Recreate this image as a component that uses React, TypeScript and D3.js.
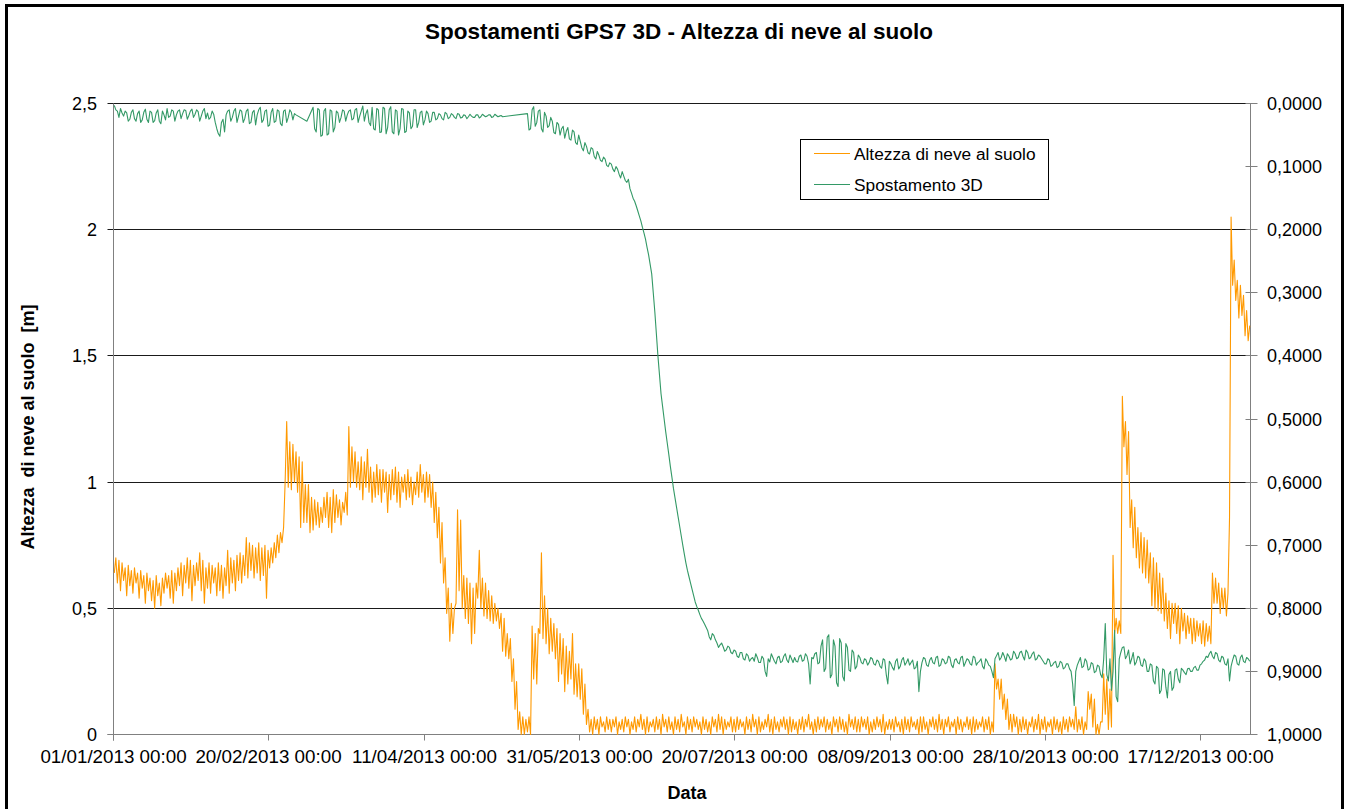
import React from "react";
import * as d3 from "d3";

// ---------- data ----------
const startDate = new Date(Date.UTC(2013, 0, 1));
const endDayOffset = 366;
const xTickDays = [0, 50, 100, 150, 200, 250, 300, 350];
const leftTicks = [0, 0.5, 1, 1.5, 2, 2.5];
const rightTicks = [0, 0.1, 0.2, 0.3, 0.4, 0.5, 0.6, 0.7, 0.8, 0.9, 1.0];

const chartTitle = "Spostamenti GPS7 3D - Altezza di neve al suolo";
const leftAxisTitle = "Altezza  di neve al suolo  [m]";
const xAxisTitle = "Data";
const seriesNames = ["Altezza di neve al suolo", "Spostamento 3D"];

// Altezza di neve al suolo [m]: daily minimum (morning) and maximum (afternoon), from 01/01/2013
const snowDailyMin: number[] = [
  0.64, 0.60, 0.57, 0.61, 0.55, 0.59, 0.56, 0.60, 0.54, 0.58, // 0
  0.52, 0.57, 0.53, 0.50, 0.55, 0.51, 0.56, 0.58, 0.54, 0.52, // 10
  0.57, 0.59, 0.55, 0.60, 0.58, 0.53, 0.59, 0.61, 0.57, 0.52, // 20
  0.58, 0.56, 0.60, 0.55, 0.57, 0.54, 0.59, 0.56, 0.60, 0.57, // 30
  0.61, 0.60, 0.63, 0.62, 0.65, 0.62, 0.64, 0.61, 0.63, 0.54, // 40
  0.66, 0.68, 0.70, 0.72, 0.76, 1.00, 0.98, 0.97, 1.00, 0.96, // 50
  0.82, 0.84, 0.84, 0.80, 0.81, 0.83, 0.82, 0.84, 0.86, 0.82, // 60
  0.80, 0.84, 0.86, 0.83, 0.88, 0.87, 0.98, 1.00, 0.98, 0.97, // 70
  0.93, 0.98, 0.96, 0.92, 0.94, 0.95, 0.92, 0.96, 0.88, 0.93, // 80
  0.95, 0.92, 0.90, 0.96, 0.93, 0.94, 0.91, 0.95, 0.94, 0.96, // 90
  0.92, 0.94, 0.90, 0.84, 0.78, 0.68, 0.60, 0.48, 0.37, 0.40, // 100
  0.52, 0.57, 0.50, 0.46, 0.44, 0.36, 0.40, 0.54, 0.50, 0.47, // 110
  0.46, 0.45, 0.44, 0.45, 0.42, 0.33, 0.31, 0.30, 0.21, 0.10, // 120
  0.02, 0.00, 0.00, 0.01, 0.00, 0.22, 0.20, 0.40, 0.38, 0.36, // 130
  0.32, 0.33, 0.30, 0.21, 0.24, 0.17, 0.20, 0.22, 0.16, 0.15, // 140
  0.14, 0.08, 0.04, 0.01, 0.00, 0.02, 0.00, 0.03, 0.01, 0.02, // 150
  0.01, 0.03, 0.00, 0.02, 0.01, 0.03, 0.00, 0.02, 0.01, 0.03, // 160
  0.02, 0.00, 0.01, 0.03, 0.01, 0.02, 0.00, 0.03, 0.01, 0.02, // 170
  0.00, 0.02, 0.01, 0.03, 0.00, 0.02, 0.01, 0.03, 0.02, 0.00, // 180
  0.02, 0.01, 0.00, 0.03, 0.01, 0.02, 0.00, 0.02, 0.03, 0.01, // 190
  0.01, 0.02, 0.03, 0.00, 0.02, 0.01, 0.03, 0.00, 0.01, 0.02, // 200
  0.03, 0.01, 0.00, 0.02, 0.01, 0.03, 0.02, 0.00, 0.01, 0.02, // 210
  0.00, 0.02, 0.01, 0.03, 0.02, 0.00, 0.01, 0.02, 0.03, 0.01, // 220
  0.02, 0.00, 0.03, 0.01, 0.02, 0.01, 0.00, 0.03, 0.02, 0.01, // 230
  0.01, 0.03, 0.02, 0.00, 0.01, 0.02, 0.03, 0.01, 0.00, 0.02, // 240
  0.02, 0.01, 0.03, 0.01, 0.00, 0.02, 0.01, 0.03, 0.02, 0.00, // 250
  0.01, 0.02, 0.00, 0.03, 0.02, 0.01, 0.02, 0.00, 0.03, 0.01, // 260
  0.03, 0.00, 0.02, 0.01, 0.03, 0.02, 0.00, 0.01, 0.02, 0.03, // 270
  0.01, 0.02, 0.00, 0.01, 0.18, 0.14, 0.10, 0.06, 0.02, 0.01, // 280
  0.03, 0.00, 0.01, 0.02, 0.00, 0.03, 0.01, 0.02, 0.00, 0.02, // 290
  0.01, 0.03, 0.00, 0.02, 0.01, 0.00, 0.02, 0.01, 0.03, 0.02, // 300
  0.01, 0.02, 0.00, 0.02, 0.10, 0.03, 0.00, 0.00, 0.05, 0.08, // 310
  0.02, 0.03, 0.40, 0.40, 0.40, 1.14, 1.03, 0.82, 0.74, 0.70, // 320
  0.66, 0.64, 0.62, 0.60, 0.51, 0.50, 0.49, 0.48, 0.45, 0.42, // 330
  0.38, 0.44, 0.40, 0.36, 0.41, 0.38, 0.40, 0.36, 0.37, 0.39, // 340
  0.36, 0.35, 0.37, 0.36, 0.52, 0.52, 0.48, 0.50, 0.47, 0.86, // 350
  1.78, 1.72, 1.65, 1.66, 1.58, 1.56,                         // 360
];
const snowDailyMax: number[] = [
  0.70, 0.69, 0.68, 0.66, 0.67, 0.65, 0.66, 0.64, 0.65, 0.63, // 0
  0.64, 0.62, 0.61, 0.63, 0.60, 0.62, 0.64, 0.63, 0.65, 0.64, // 10
  0.66, 0.68, 0.67, 0.70, 0.69, 0.67, 0.68, 0.72, 0.69, 0.66, // 20
  0.68, 0.67, 0.66, 0.68, 0.67, 0.66, 0.73, 0.70, 0.69, 0.71, // 30
  0.72, 0.71, 0.78, 0.76, 0.75, 0.74, 0.76, 0.74, 0.75, 0.73, // 40
  0.74, 0.76, 0.79, 0.80, 0.82, 1.24, 1.16, 1.15, 1.12, 1.10, // 50
  1.08, 0.99, 0.99, 0.94, 0.93, 0.92, 0.90, 0.94, 0.96, 0.94, // 60
  0.97, 0.95, 0.93, 0.92, 0.96, 1.22, 1.14, 1.12, 1.08, 1.10, // 70
  1.08, 1.13, 1.06, 1.04, 1.07, 1.05, 1.05, 1.04, 1.03, 1.05, // 80
  1.06, 1.04, 1.02, 1.03, 1.05, 1.02, 1.00, 1.04, 1.07, 1.03, // 90
  1.04, 1.03, 1.00, 0.96, 0.90, 0.84, 0.70, 0.58, 0.52, 0.50, // 100
  0.89, 0.85, 0.63, 0.62, 0.60, 0.58, 0.60, 0.73, 0.62, 0.60, // 110
  0.57, 0.55, 0.52, 0.50, 0.48, 0.46, 0.40, 0.38, 0.30, 0.21, // 120
  0.09, 0.07, 0.06, 0.07, 0.43, 0.40, 0.42, 0.72, 0.55, 0.50, // 130
  0.46, 0.44, 0.42, 0.40, 0.38, 0.35, 0.33, 0.40, 0.28, 0.28, // 140
  0.26, 0.20, 0.10, 0.06, 0.07, 0.06, 0.07, 0.05, 0.07, 0.06, // 150
  0.06, 0.07, 0.05, 0.06, 0.07, 0.06, 0.05, 0.07, 0.06, 0.08, // 160
  0.06, 0.07, 0.05, 0.06, 0.07, 0.06, 0.08, 0.06, 0.07, 0.05, // 170
  0.07, 0.06, 0.08, 0.05, 0.07, 0.06, 0.07, 0.06, 0.05, 0.07, // 180
  0.06, 0.05, 0.07, 0.06, 0.08, 0.07, 0.06, 0.05, 0.07, 0.06, // 190
  0.07, 0.06, 0.05, 0.07, 0.06, 0.08, 0.06, 0.07, 0.05, 0.06, // 200
  0.08, 0.06, 0.07, 0.05, 0.06, 0.07, 0.06, 0.07, 0.06, 0.05, // 210
  0.06, 0.07, 0.06, 0.08, 0.05, 0.06, 0.07, 0.06, 0.07, 0.06, // 220
  0.05, 0.07, 0.06, 0.07, 0.06, 0.05, 0.08, 0.06, 0.07, 0.06, // 230
  0.07, 0.06, 0.07, 0.05, 0.06, 0.07, 0.06, 0.08, 0.05, 0.06, // 240
  0.06, 0.07, 0.05, 0.06, 0.07, 0.06, 0.07, 0.05, 0.06, 0.07, // 250
  0.07, 0.05, 0.06, 0.07, 0.06, 0.08, 0.06, 0.06, 0.07, 0.05, // 260
  0.06, 0.07, 0.06, 0.05, 0.07, 0.06, 0.07, 0.06, 0.05, 0.07, // 270
  0.06, 0.07, 0.05, 0.28, 0.22, 0.22, 0.16, 0.14, 0.08, 0.08, // 280
  0.07, 0.06, 0.07, 0.06, 0.05, 0.07, 0.06, 0.08, 0.06, 0.07, // 290
  0.05, 0.06, 0.07, 0.06, 0.05, 0.07, 0.06, 0.07, 0.06, 0.11, // 300
  0.06, 0.07, 0.05, 0.17, 0.16, 0.14, 0.04, 0.05, 0.24, 0.22, // 310
  0.18, 0.71, 0.46, 0.45, 1.34, 1.24, 1.20, 0.93, 0.90, 0.82, // 320
  0.80, 0.78, 0.77, 0.72, 0.70, 0.68, 0.64, 0.62, 0.56, 0.53, // 330
  0.52, 0.52, 0.51, 0.50, 0.48, 0.47, 0.46, 0.46, 0.45, 0.44, // 340
  0.45, 0.44, 0.43, 0.64, 0.62, 0.60, 0.58, 0.58, 0.56, 2.05, // 350
  1.88, 1.80, 1.78, 1.74, 1.68, 1.62,                         // 360
];

// Spostamento 3D (right axis, inverted): morning reading, null = no data
const gpsMorning: (number | null)[] = [
  0.003, 0.012, 0.008, 0.020, 0.015, 0.025, 0.010, 0.028, 0.012, 0.026, // 0
  0.009, 0.030, 0.014, 0.027, 0.010, 0.032, 0.018, 0.008, 0.020, 0.012, // 10
  0.018, 0.010, 0.016, 0.011, 0.019, 0.009, 0.017, 0.013, 0.020, 0.008, // 20
  0.015, 0.022, 0.017, 0.040, 0.052, 0.025, 0.018, 0.010, 0.022, 0.008, // 30
  0.020, 0.012, 0.024, 0.009, 0.030, 0.011, 0.018, 0.006, 0.026, 0.010, // 40
  0.034, 0.008, 0.028, 0.012, 0.035, 0.010, 0.022, 0.014, 0.016, null,  // 50
  null, null, 0.028, null, 0.006, 0.045, 0.010, 0.050, 0.008, 0.048,    // 60
  0.012, 0.038, 0.015, 0.022, 0.012, 0.018, 0.010, 0.024, 0.008, 0.020, // 70
  0.004, 0.016, 0.030, 0.006, 0.042, 0.010, 0.045, 0.008, 0.038, 0.005, // 80
  0.048, 0.012, 0.040, 0.009, 0.044, 0.015, 0.036, 0.010, 0.030, 0.012, // 90
  0.026, 0.016, 0.028, 0.014, 0.024, 0.018, 0.026, 0.016, 0.022, 0.018, // 100
  0.024, 0.017, 0.022, 0.019, 0.021, 0.020, 0.022, 0.018, 0.021, 0.019, // 110
  0.020, 0.018, 0.021, 0.019, 0.020, 0.021, null, null, null, null,     // 120
  null, null, null, 0.016, 0.040, 0.005, 0.030, 0.010, 0.045, 0.020,    // 130
  0.035, 0.028, 0.048, 0.033, 0.040, 0.055, 0.038, 0.058, 0.045, 0.065, // 140
  0.060, 0.075, 0.068, 0.080, 0.072, 0.088, 0.082, 0.092, 0.088, 0.100, // 150
  0.096, 0.108, 0.104, 0.118, 0.115, 0.125, 0.135, 0.150, 0.162, 0.178, // 160
  0.196, 0.215, 0.240, 0.270, 0.330, 0.400, 0.460, 0.500, 0.538, 0.575, // 170
  0.610, 0.640, 0.670, 0.700, 0.728, 0.750, 0.770, 0.790, 0.803, 0.816, // 180
  0.825, 0.835, 0.850, 0.843, 0.855, 0.858, 0.861, 0.866, 0.862, 0.872, // 190
  0.868, 0.878, 0.870, 0.882, 0.875, 0.880, 0.884, 0.878, 0.886, 0.880, // 200
  0.908, 0.885, 0.878, 0.888, 0.876, 0.884, 0.872, 0.886, 0.880, 0.878, // 210
  0.885, 0.874, 0.882, 0.876, 0.920, 0.880, 0.870, 0.886, 0.850, 0.895, // 220
  0.842, 0.905, 0.860, 0.924, 0.855, 0.915, 0.862, 0.900, 0.870, 0.892, // 230
  0.878, 0.888, 0.882, 0.886, 0.880, 0.890, 0.884, 0.895, 0.882, 0.920, // 240
  0.888, 0.898, 0.880, 0.892, 0.878, 0.886, 0.890, 0.882, 0.894, 0.932, // 250
  0.886, 0.880, 0.892, 0.878, 0.888, 0.876, 0.890, 0.882, 0.886, 0.878, // 260
  0.894, 0.880, 0.888, 0.876, 0.886, 0.882, 0.890, 0.878, 0.886, 0.880, // 270
  0.896, 0.884, 0.892, 0.910, 0.875, 0.882, 0.870, 0.884, 0.876, 0.880, // 280
  0.872, 0.878, 0.868, 0.882, 0.870, 0.878, 0.869, 0.880, 0.876, 0.884, // 290
  0.888, 0.882, 0.890, 0.884, 0.892, 0.886, 0.894, 0.888, 0.900, 0.954, // 300
  0.890, 0.878, 0.892, 0.884, 0.896, 0.888, 0.900, 0.892, 0.910, 0.824, // 310
  0.915, 0.930, 0.835, 0.948, 0.870, 0.861, 0.875, 0.888, 0.870, 0.885, // 320
  0.878, 0.892, 0.884, 0.900, 0.890, 0.920, 0.895, 0.930, 0.898, 0.942, // 330
  0.900, 0.925, 0.896, 0.918, 0.898, 0.905, 0.895, 0.900, 0.892, 0.898, // 340
  0.888, 0.882, 0.878, 0.868, 0.880, 0.872, 0.885, 0.878, 0.890, 0.915, // 350
  0.882, 0.876, 0.890, 0.874, 0.886, 0.880,                             // 360
];
// Spostamento 3D: evening reading, null = no data
const gpsEvening: (number | null)[] = [
  0.010, 0.022, 0.015, 0.012, 0.028, 0.014, 0.024, 0.016, 0.030, 0.014, // 0
  0.025, 0.012, 0.030, 0.015, 0.028, 0.012, 0.026, 0.022, 0.010, 0.028, // 10
  0.012, 0.024, 0.010, 0.025, 0.012, 0.022, 0.010, 0.028, 0.012, 0.024, // 20
  0.025, 0.012, 0.030, 0.048, 0.030, 0.045, 0.012, 0.028, 0.012, 0.030, // 30
  0.010, 0.030, 0.012, 0.032, 0.014, 0.034, 0.010, 0.030, 0.012, 0.036, // 40
  0.014, 0.030, 0.010, 0.032, 0.012, 0.030, 0.010, 0.026, 0.018, null,  // 50
  null, null, null, null, 0.040, 0.008, 0.052, 0.012, 0.050, 0.010,     // 60
  0.045, 0.012, 0.030, 0.010, 0.028, 0.012, 0.026, 0.010, 0.030, 0.012, // 70
  0.028, 0.010, 0.035, 0.040, 0.008, 0.046, 0.006, 0.048, 0.010, 0.045, // 80
  0.010, 0.050, 0.008, 0.046, 0.012, 0.040, 0.010, 0.038, 0.014, 0.034, // 90
  0.012, 0.030, 0.014, 0.026, 0.016, 0.024, 0.014, 0.024, 0.016, 0.022, // 100
  0.016, 0.023, 0.018, 0.024, 0.017, 0.022, 0.018, 0.023, 0.017, 0.021, // 110
  0.018, 0.022, 0.017, 0.021, 0.019, null, null, null, null, null,      // 120
  null, null, null, 0.042, 0.010, 0.036, 0.012, 0.040, 0.014, 0.038,    // 130
  0.022, 0.046, 0.030, 0.050, 0.036, 0.044, 0.056, 0.042, 0.062, 0.050, // 140
  0.070, 0.062, 0.078, 0.070, 0.084, 0.076, 0.090, 0.085, 0.098, 0.094, // 150
  0.104, 0.100, 0.112, 0.108, 0.122, 0.120, 0.142, 0.155, 0.170, 0.186, // 160
  0.205, 0.228, 0.255, 0.300, 0.365, 0.430, 0.480, 0.520, 0.556, 0.592, // 170
  0.625, 0.655, 0.685, 0.714, 0.740, 0.760, 0.780, 0.797, 0.810, 0.820, // 180
  0.830, 0.845, 0.840, 0.850, 0.862, 0.855, 0.868, 0.860, 0.870, 0.866, // 190
  0.876, 0.870, 0.880, 0.872, 0.884, 0.878, 0.872, 0.886, 0.876, 0.900, // 200
  0.880, 0.872, 0.884, 0.878, 0.886, 0.876, 0.882, 0.874, 0.886, 0.884, // 210
  0.876, 0.884, 0.872, 0.888, 0.878, 0.872, 0.888, 0.860, 0.900, 0.846, // 220
  0.910, 0.850, 0.918, 0.848, 0.908, 0.856, 0.898, 0.866, 0.896, 0.874, // 230
  0.886, 0.880, 0.890, 0.878, 0.888, 0.882, 0.892, 0.880, 0.905, 0.884, // 240
  0.894, 0.884, 0.896, 0.882, 0.890, 0.880, 0.886, 0.896, 0.884, 0.900, // 250
  0.878, 0.890, 0.882, 0.886, 0.878, 0.892, 0.880, 0.888, 0.876, 0.890, // 260
  0.882, 0.886, 0.878, 0.892, 0.880, 0.888, 0.876, 0.890, 0.884, 0.892, // 270
  0.880, 0.890, 0.900, 0.880, 0.870, 0.878, 0.876, 0.872, 0.882, 0.868, // 280
  0.880, 0.870, 0.876, 0.866, 0.880, 0.872, 0.882, 0.874, 0.880, 0.888, // 290
  0.880, 0.892, 0.886, 0.894, 0.884, 0.896, 0.888, 0.896, 0.920, 0.900, // 300
  0.884, 0.894, 0.880, 0.898, 0.886, 0.902, 0.890, 0.905, 0.880, 0.905, // 310
  0.880, 0.900, 0.940, 0.880, 0.862, 0.880, 0.866, 0.880, 0.890, 0.876, // 320
  0.890, 0.880, 0.900, 0.888, 0.915, 0.892, 0.935, 0.896, 0.925, 0.905, // 330
  0.930, 0.898, 0.912, 0.895, 0.902, 0.896, 0.900, 0.894, 0.898, 0.890, // 340
  0.884, 0.876, 0.872, 0.876, 0.870, 0.882, 0.876, 0.888, 0.880, 0.892, // 350
  0.874, 0.888, 0.878, 0.884, 0.878, 0.884,                             // 360
];

// ---------- layout ----------
const W = 1350;
const H = 809;
const plotL = 113.5;
const plotR = 1250.5;
const plotT = 103.5;
const plotB = 734.5;
const FONT = "'Liberation Sans', Arial, sans-serif";
const ORANGE = "#FF9900";
const GREEN = "#339966";

export default function App() {
  const x = d3
    .scaleUtc()
    .domain([startDate, d3.utcDay.offset(startDate, endDayOffset)])
    .range([plotL, plotR]);
  const yL = d3.scaleLinear().domain([0, 2.5]).range([plotB, plotT]);
  const yR = d3.scaleLinear().domain([0, 1]).range([plotT, plotB]);
  const fmtDate = d3.utcFormat("%d/%m/%Y %H:%M");
  const crisp = (v: number) => Math.round(v - 0.5) + 0.5;

  // minimum in the morning (06:00), maximum in the afternoon (18:00)
  const snowPts: [Date, number][] = [];
  snowDailyMin.forEach((mn, i) => {
    const day = d3.utcDay.offset(startDate, i);
    snowPts.push([d3.utcHour.offset(day, 6), mn]);
    snowPts.push([d3.utcHour.offset(day, 18), snowDailyMax[i]]);
  });
  const gpsPts: [Date, number][] = [];
  gpsMorning.forEach((am, i) => {
    const day = d3.utcDay.offset(startDate, i);
    if (am !== null) gpsPts.push([d3.utcHour.offset(day, 6), am]);
    const pm = gpsEvening[i];
    if (pm !== null && pm !== undefined) gpsPts.push([d3.utcHour.offset(day, 18), pm]);
  });

  const snowLine = d3
    .line<[Date, number]>()
    .x((d) => x(d[0]))
    .y((d) => yL(d[1]));
  const gpsLine = d3
    .line<[Date, number]>()
    .x((d) => x(d[0]))
    .y((d) => yR(d[1]));

  const legX = 800.5;
  const legY = 139.5;

  return (
    <svg
      width={W}
      height={H}
      style={{ position: "absolute", left: 0, top: 0, background: "#fff" }}
      fontFamily={FONT}
    >
      <rect x={0} y={0} width={W} height={H} fill="#fff" />
      {/* chart area border */}
      <rect x={6.5} y={5.5} width={1336} height={900} fill="none" stroke="#000" strokeWidth={3} />

      {/* title */}
      <text x={679} y={39} textAnchor="middle" fontSize={22.5} fontWeight="bold" fill="#000">
        {chartTitle}
      </text>

      {/* gridlines */}
      {leftTicks.map((t) => (
        <line
          key={"g" + t}
          x1={plotL - 6}
          x2={plotR}
          y1={crisp(yL(t))}
          y2={crisp(yL(t))}
          stroke={t === 0 ? "#808080" : "#1a1a1a"}
          strokeWidth={1}
        />
      ))}

      {/* left axis */}
      <line x1={plotL} x2={plotL} y1={plotT} y2={plotB + 6} stroke="#808080" strokeWidth={1} />
      {leftTicks.map((t) => (
        <text
          key={"lt" + t}
          x={97}
          y={crisp(yL(t)) + 6}
          textAnchor="end"
          fontSize={18}
          fill="#000"
        >
          {String(t).replace(".", ",")}
        </text>
      ))}

      {/* right axis */}
      <line x1={plotR} x2={plotR} y1={plotT} y2={plotB} stroke="#808080" strokeWidth={1} />
      {rightTicks.map((t) => (
        <g key={"rt" + t}>
          <line x1={plotR - 5} x2={plotR + 7} y1={crisp(yR(t))} y2={crisp(yR(t))} stroke="#808080" strokeWidth={1} />
          <text x={1267} y={crisp(yR(t)) + 6} fontSize={18} fill="#000">
            {t.toFixed(4).replace(".", ",")}
          </text>
        </g>
      ))}

      {/* x axis */}
      <line x1={plotL - 6} x2={plotR + 6} y1={plotB} y2={plotB} stroke="#808080" strokeWidth={1} />
      {xTickDays.map((d) => {
        const dt = d3.utcDay.offset(startDate, d);
        const px = crisp(x(dt));
        return (
          <g key={"xt" + d}>
            <line x1={px} x2={px} y1={plotB} y2={plotB + 6} stroke="#808080" strokeWidth={1} />
            <text x={px} y={763} textAnchor="middle" fontSize={18.8} fill="#000">
              {fmtDate(dt)}
            </text>
          </g>
        );
      })}

      {/* axis titles */}
      <text
        transform={`translate(34, 427) rotate(-90)`}
        textAnchor="middle"
        fontSize={18}
        fontWeight="bold"
        fill="#000"
        style={{ whiteSpace: "pre" }}
      >
        {leftAxisTitle}
      </text>
      <text x={687} y={799} textAnchor="middle" fontSize={18} fontWeight="bold" fill="#000">
        {xAxisTitle}
      </text>

      {/* series */}
      <path d={snowLine(snowPts) || ""} fill="none" stroke={ORANGE} strokeWidth={1.1} strokeLinejoin="round" />
      <path d={gpsLine(gpsPts) || ""} fill="none" stroke={GREEN} strokeWidth={1.1} strokeLinejoin="round" />

      {/* legend */}
      <rect x={legX} y={legY} width={248} height={60} fill="#fff" stroke="#000" strokeWidth={1} />
      <line x1={814} x2={850} y1={153.5} y2={153.5} stroke={ORANGE} strokeWidth={1.2} />
      <text x={854} y={160} fontSize={17.3} fill="#000">
        {seriesNames[0]}
      </text>
      <line x1={814} x2={850} y1={184.5} y2={184.5} stroke={GREEN} strokeWidth={1.2} />
      <text x={854} y={191} fontSize={17.3} fill="#000">
        {seriesNames[1]}
      </text>
    </svg>
  );
}
